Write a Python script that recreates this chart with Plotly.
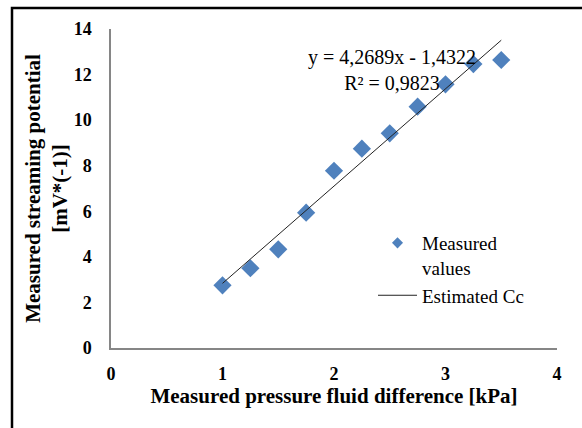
import plotly.graph_objects as go

# Measured data
pressure_kpa = [1.0, 1.25, 1.5, 1.75, 2.0, 2.25, 2.5, 2.75, 3.0, 3.25, 3.5]
streaming_mv = [2.75, 3.5, 4.33, 5.94, 7.78, 8.75, 9.42, 10.59, 11.57, 12.46, 12.64]

# Linear fit reported on the chart
SLOPE = 4.2689
INTERCEPT = -1.4322
R_SQUARED = 0.9823
fit_x = [1.0, 3.5]
fit_y = [SLOPE * x + INTERCEPT for x in fit_x]

x_ticks = [0, 1, 2, 3, 4]
y_ticks = [0, 2, 4, 6, 8, 10, 12, 14]

SERIF = "Liberation Serif, Times New Roman, serif"
BLUE = "#4F81BD"
AXIS_GREY = "#868686"

W, H = 582, 428
ML, MR, MT, MB = 111, 25, 29, 80
PW, PH = W - ML - MR, H - MT - MB


def px_x(p):
    return (p - ML) / PW


def px_y(p):
    return (H - MB - p) / PH


fig = go.Figure()

fig.add_trace(go.Scatter(
    x=pressure_kpa, y=streaming_mv,
    mode="markers",
    name="Measured<br>values",
    showlegend=False,
    marker=dict(symbol="diamond", size=14, color=BLUE, line=dict(width=0)),
))

# legend entry for the measured series, with a smaller key symbol
fig.add_trace(go.Scatter(
    x=[None], y=[None],
    mode="markers",
    name="Measured<br>values",
    marker=dict(symbol="diamond", size=8.5, color=BLUE, line=dict(width=0)),
))

fig.add_trace(go.Scatter(
    x=fit_x, y=fit_y,
    mode="lines",
    name="Estimated Cc",
    line=dict(color="#222222", width=1),
))

fmt = lambda v: f"{v:.4f}".replace(".", ",")
sign = "-" if INTERCEPT < 0 else "+"
eq_text = (f"y = {fmt(SLOPE)}x {sign} {fmt(abs(INTERCEPT))}<br>"
           f"R² = {fmt(R_SQUARED)}")

fig.add_annotation(
    x=px_x(392), y=px_y(70), xref="paper", yref="paper",
    text=eq_text, showarrow=False, align="center",
    xanchor="center", yanchor="middle",
    font=dict(family=SERIF, size=20, color="black"),
)

# Outer chart frame
fig.add_shape(
    type="rect", xref="paper", yref="paper",
    x0=px_x(12), x1=px_x(620), y0=px_y(470), y1=px_y(8),
    line=dict(color="black", width=2.5), fillcolor="rgba(0,0,0,0)",
    layer="above",
)

fig.update_layout(
    width=W, height=H,
    margin=dict(l=ML, r=MR, t=MT, b=MB),
    paper_bgcolor="white", plot_bgcolor="white",
    font=dict(family=SERIF, color="black"),
    showlegend=True,
    legend=dict(
        x=px_x(373), y=px_y(224), xanchor="left", yanchor="top",
        font=dict(family=SERIF, size=19, color="black"),
        bgcolor="rgba(0,0,0,0)", itemwidth=39, valign="top",
        tracegroupgap=0,
    ),
    xaxis=dict(
        range=[0, 4], tickvals=x_ticks, ticktext=[str(v) for v in x_ticks],
        showgrid=False, zeroline=False,
        showline=True, linecolor=AXIS_GREY, linewidth=1.5,
        ticks="", ticklabelstandoff=9,
        tickfont=dict(family=SERIF, size=18, color="black", weight="bold"),
        title=dict(text="<b>Measured pressure fluid difference [kPa]</b>",
                   font=dict(family=SERIF, size=21, color="black"),
                   standoff=4),
    ),
    yaxis=dict(
        range=[0, 14], tickvals=y_ticks, ticktext=[str(v) for v in y_ticks],
        showgrid=False, zeroline=False,
        showline=True, linecolor=AXIS_GREY, linewidth=1.5,
        ticks="", ticklabelstandoff=14,
        tickfont=dict(family=SERIF, size=18, color="black", weight="bold"),
        title=dict(text="<b>Measured streaming potential<br>[mV*(-1)]</b>",
                   font=dict(family=SERIF, size=21, color="black"),
                   standoff=0),
    ),
)

fig.write_html("out.html")
